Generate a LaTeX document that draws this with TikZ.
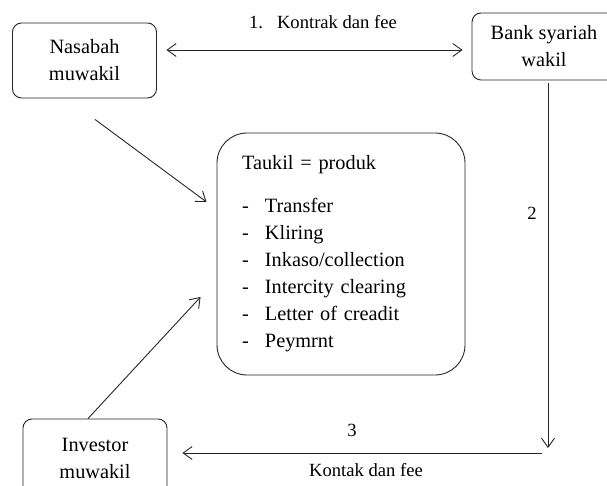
\documentclass[tikz,border=0pt]{standalone}
\usepackage{fontspec}
\setmainfont{Liberation Serif}
\usetikzlibrary{arrows.meta}

\begin{document}
\begin{tikzpicture}[x=1pt,y=-1pt,
  box/.style={draw=black!85, line width=0.9pt, rounded corners=9pt, minimum width=144pt, align=center, font=\fontsize{20.3}{27}\selectfont},
  link/.style={black!85, line width=0.9pt, >={Straight Barb[length=9pt,width=13pt]}},
  lbl/.style={font=\fontsize{18.6}{22}\selectfont}]
\useasboundingbox (0,0) rectangle (607,486);
\clip (0,0) rectangle (607,486);
\node[box, minimum height=75pt] (nasabah) at (84.5,60.5) {Nasabah\\muwakil};
\node[box, minimum height=67pt] (bank) at (544,46.5) {Bank syariah\\wakil};
\node[box, minimum height=78pt] (investor) at (95,458) {Investor\\muwakil};
\node[box, rounded corners=30pt, minimum height=242pt, text width=198pt, inner xsep=25pt, align=left] (taukil) at (341,254)
  {Taukil = produk\\[16pt]
   \makebox[23pt][l]{-}Transfer\\
   \makebox[23pt][l]{-}Kliring\\
   \makebox[23pt][l]{-}Inkaso/collection\\
   \makebox[23pt][l]{-}Intercity clearing\\
   \makebox[23pt][l]{-}Letter of creadit\\
   \makebox[23pt][l]{-}Peymrnt};
\coordinate (turn) at (548,448);
\coordinate (back) at (542,453);
\draw[link, <->] ([xshift=9.5pt,yshift=10.5pt]nasabah.east) -- ([xshift=-9pt,yshift=-3.5pt]bank.west);
\draw[link, ->] ([xshift=4pt,yshift=-3pt]bank.south) -- (turn);
\draw[link, ->] (back) -- ([xshift=15pt,yshift=5pt]investor.east);
\draw[link, ->] ([xshift=10.5pt,yshift=-21pt]nasabah.south) -- ([xshift=-10pt,yshift=52pt]taukil.west);
\draw[link, ->] ([xshift=-7pt]investor.north) -- ([xshift=-16pt,yshift=-43pt]taukil.west);
\node[lbl] (kontrak) at (323,22) {1.\hspace{14pt}Kontrak dan fee};
\node[lbl] (dua) at (532,213) {2};
\node[lbl] (tiga) at (352,430) {3};
\node[lbl] (kontak) at (366,470) {Kontak dan fee};
\end{tikzpicture}
\end{document}
